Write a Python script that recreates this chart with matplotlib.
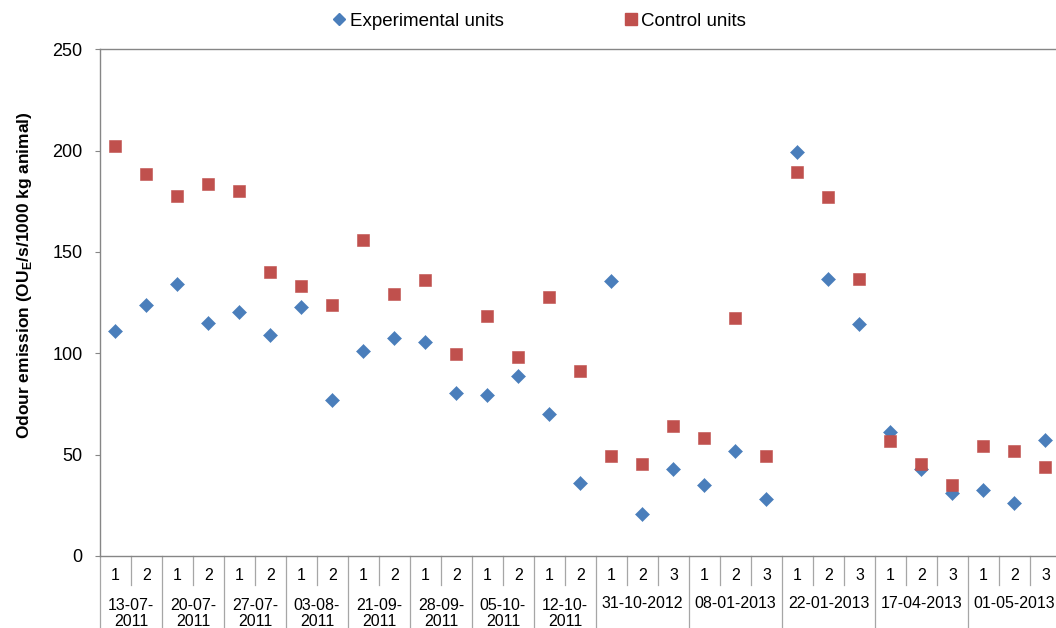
import numpy as np
import matplotlib
matplotlib.use('Agg')
import matplotlib.pyplot as plt
from matplotlib.lines import Line2D

plt.rcParams['font.family'] = ['Liberation Sans', 'DejaVu Sans']
plt.rcParams['mathtext.fontset'] = 'custom'
plt.rcParams['mathtext.rm'] = 'Liberation Sans'
plt.rcParams['mathtext.bf'] = 'Liberation Sans:bold'

# sampling dates and number of replicates per date
dates = ['13-07-2011', '20-07-2011', '27-07-2011', '03-08-2011', '21-09-2011',
         '28-09-2011', '05-10-2011', '12-10-2011', '31-10-2012', '08-01-2013',
         '22-01-2013', '17-04-2013', '01-05-2013']
reps = [2, 2, 2, 2, 2, 2, 2, 2, 3, 3, 3, 3, 3]

experimental = [111, 123.6, 134.4, 115, 120.4, 109, 122.8, 77, 101.2, 107.8, 105.8,
                80.2, 79.4, 88.6, 70.2, 35.8, 135.9, 20.5, 42.9, 34.8, 51.8, 28.3,
                199.3, 136.7, 114.7, 61.1, 42.7, 30.9, 32.5, 26.3, 57.2]
control = [202.3, 188.7, 177.5, 183.7, 180.3, 140, 133.3, 124, 156.1, 129.5, 136,
           99.9, 118.3, 98.4, 127.8, 91.4, 49.5, 45.4, 64.3, 58.3, 117.6, 49.5,
           189.5, 177.3, 136.5, 56.5, 45.4, 35, 54.2, 51.9, 43.9]

blue = '#4A7EBB'
red = '#C0504D'
grey = '#A6A6A6'

x = np.arange(len(experimental))

fig = plt.figure(figsize=(10.56, 6.28), dpi=100)
ax_h = (556 - 49.3) / 628
ax = fig.add_axes([100 / 1056, 72 / 628, 956 / 1056, ax_h])

ax.plot(x, experimental, linestyle='none', marker='D', markersize=7.1,
        color=blue, markeredgecolor=blue, markeredgewidth=0.4, clip_on=False, zorder=3)
ax.plot(x, control, linestyle='none', marker='s', markersize=9.3,
        color=red, markeredgecolor=red, markeredgewidth=0.4, clip_on=False, zorder=3)

ax.set_ylim(0, 250)
ax.set_yticks(range(0, 251, 50))
ax.set_xlim(-0.5, 30.34)
ax.set_xticks([])
ax.tick_params(axis='y', length=3.6, width=0.8, color='#868686', labelsize=13, pad=9)
for s in ['left', 'bottom', 'top']:
    ax.spines[s].set_color('#868686')
    ax.spines[s].set_linewidth(1.0)
ax.spines['right'].set_visible(False)

# multi-level category axis
px = 1 / 506.7
tr = ax.get_xaxis_transform()
fs = 11.5
pos = 0
for d, n in zip(dates, reps):
    left = pos - 0.5
    ax.plot([left, left], [0, -72 * px], transform=tr, color=grey, lw=0.9, clip_on=False)
    for k in range(n):
        xi = pos + k
        ax.text(xi, -19 * px, str(k + 1), transform=tr, ha='center', va='center', fontsize=fs)
        if k > 0:
            ax.plot([xi - 0.5, xi - 0.5], [0, -29 * px], transform=tr, color=grey,
                    lw=0.9, clip_on=False)
    mid = pos + (n - 1) / 2
    if n > 2:
        ax.text(mid, -48 * px, d, transform=tr, ha='center', va='center', fontsize=fs)
    else:
        ax.text(mid, -49 * px, d[:6], transform=tr, ha='center', va='center', fontsize=fs)
        ax.text(mid, -66 * px, d[6:], transform=tr, ha='center', va='center', fontsize=fs)
    pos += n

fig.text(25 / 1056, 1 - 275 / 628, r'Odour emission (OU$_\mathbf{E}$/s/1000 kg animal)',
         rotation=90, ha='center', va='center', fontsize=12.5, fontweight='bold')

handles = [Line2D([], [], linestyle='none', marker='D', markersize=6, color=blue),
           Line2D([], [], linestyle='none', marker='s', markersize=8, color=red)]
fig.legend(handles, ['Experimental units', 'Control units'], loc='center',
           bbox_to_anchor=(540 / 1056, 1 - 21 / 628), ncol=2, frameon=False,
           fontsize=13.5, handlelength=0.6, handletextpad=0.25, columnspacing=6.5)

fig.savefig('out.png', dpi=100)
